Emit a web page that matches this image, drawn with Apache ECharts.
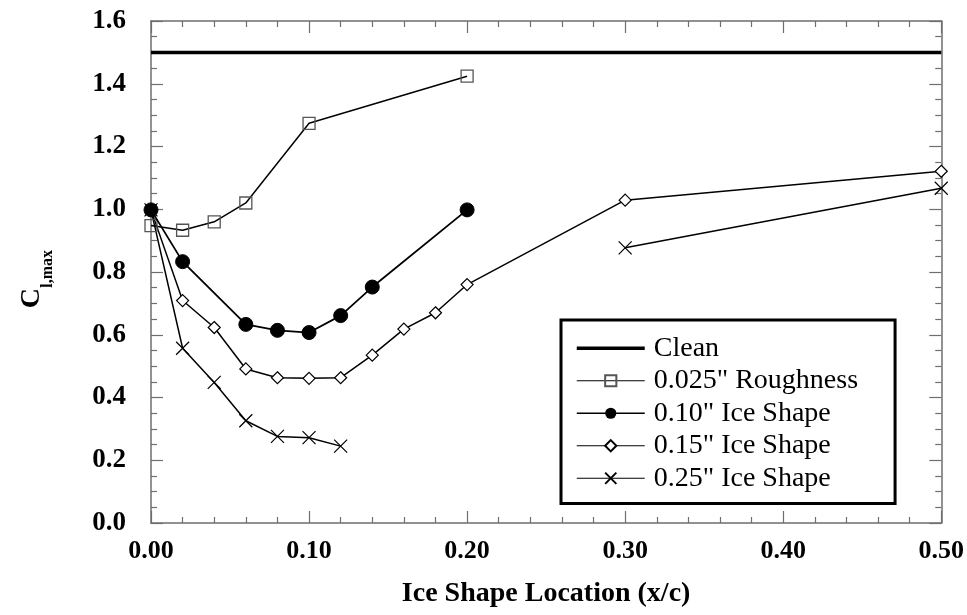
<!DOCTYPE html>
<html>
<head>
<meta charset="utf-8">
<script src="https://cdn.jsdelivr.net/npm/echarts@6/dist/echarts.min.js"></script>
<style>
  html, body { margin: 0; padding: 0; background: #fff; }
  #chart { width: 967px; height: 615px; }
</style>
</head>
<body>
<div id="chart"></div>
<script>
// Maximum lift coefficient versus ice shape chordwise location
const seriesNames = ['Clean', '0.025" Roughness', '0.10" Ice Shape', '0.15" Ice Shape', '0.25" Ice Shape'];

const cleanX = [0, 0.5];
const cleanY = [1.5, 1.5];

const roughX = [0, 0.02, 0.04, 0.06, 0.10, 0.20];
const roughY = [0.948, 0.933, 0.960, 1.020, 1.274, 1.424];

const ice10X = [0, 0.02, 0.06, 0.08, 0.10, 0.12, 0.14, 0.20];
const ice10Y = [0.998, 0.833, 0.633, 0.614, 0.607, 0.661, 0.752, 0.998];

const ice15X = [0, 0.02, 0.04, 0.06, 0.08, 0.10, 0.12, 0.14, 0.16, 0.18, 0.20, 0.30, 0.50];
const ice15Y = [0.998, 0.709, 0.623, 0.491, 0.463, 0.461, 0.463, 0.535, 0.618, 0.670, 0.760, 1.029, 1.121];

// null marks the break between the two measured runs
const ice25X = [0, 0.02, 0.04, 0.06, 0.08, 0.10, 0.12, 0.21, 0.30, 0.50];
const ice25Y = [0.998, 0.557, 0.448, 0.326, 0.276, 0.272, 0.245, null, 0.877, 1.067];

const xTicks = ['0.00', '0.10', '0.20', '0.30', '0.40', '0.50'];
const yTicks = ['0.0', '0.2', '0.4', '0.6', '0.8', '1.0', '1.2', '1.4', '1.6'];

const pairs = (xs, ys) => xs.map((x, i) => [x, ys[i]]);

const SERIF = '"Liberation Serif", "Times New Roman", serif';
const AXIS_GRAY = '#6e6e6e';

const chart = echarts.init(document.getElementById('chart'), null, { renderer: 'canvas' });

// every axis (including the mirrored top/right frame axes) sits on the grid edge
function makeAxis(extra, minorSplit) {
  return Object.assign({
    type: 'value',
    axisLine: { show: true, onZero: false, lineStyle: { color: AXIS_GRAY, width: 1.5 } },
    axisTick: { show: true, inside: true, length: 12, lineStyle: { color: AXIS_GRAY, width: 1.2 } },
    minorTick: { show: true, splitNumber: minorSplit, length: 6, lineStyle: { color: AXIS_GRAY, width: 1.2 } },
    splitLine: { show: false },
    minorSplitLine: { show: false }
  }, extra);
}

const xMain = makeAxis({
  min: 0, max: 0.5, interval: 0.1, position: 'bottom',
  axisLabel: {
    margin: 15, color: '#000', fontFamily: SERIF, fontWeight: 'bold', fontSize: 26,
    formatter: v => xTicks[Math.round(v * 10)]
  },
  name: 'Ice Shape Location (x/c)', nameLocation: 'middle', nameGap: 57,
  nameTextStyle: { color: '#000', fontFamily: SERIF, fontWeight: 'bold', fontSize: 28 }
}, 5);
const xTop = makeAxis({
  min: 0, max: 0.5, interval: 0.1, position: 'top', axisLabel: { show: false }
}, 5);
const yMain = makeAxis({
  min: 0, max: 1.6, interval: 0.2, position: 'left',
  axisLabel: {
    margin: 25, color: '#000', fontFamily: SERIF, fontWeight: 'bold', fontSize: 27,
    formatter: v => yTicks[Math.round(v * 5)]
  }
}, 4);
const yRight = makeAxis({
  min: 0, max: 1.6, interval: 0.2, position: 'right', axisLabel: { show: false }
}, 4);

const thinLine = { color: '#000', width: 1.5 };

chart.setOption({
  animation: false,
  backgroundColor: '#fff',
  grid: { left: 151, right: 25, top: 21, bottom: 92, containLabel: false },
  xAxis: [xMain, xTop],
  yAxis: [yMain, yRight],
  legend: {
    left: 561, top: 320,
    orient: 'vertical',
    data: [
      { name: seriesNames[0], itemStyle: { opacity: 0 }, lineStyle: { width: 3.5, color: '#000' } },
      { name: seriesNames[1], lineStyle: { width: 1.2, color: '#000' } },
      { name: seriesNames[2], lineStyle: { width: 1.5, color: '#000' } },
      { name: seriesNames[3], lineStyle: { width: 1.2, color: '#000' } },
      { name: seriesNames[4], lineStyle: { width: 1.2, color: '#000' } }
    ],
    itemWidth: 68, itemHeight: 14, itemGap: 0,
    padding: [12, 37, 9, 14],
    borderColor: '#000', borderWidth: 3,
    backgroundColor: '#fff',
    textStyle: { color: '#000', fontFamily: SERIF, fontSize: 28, lineHeight: 32.5, padding: [0, 0, 0, 4] }
  },
  graphic: [
    {
      type: 'text', left: 18, top: 288, rotation: Math.PI / 2,
      style: { text: 'C', fill: '#000', font: 'bold 28px ' + SERIF }
    },
    {
      type: 'text', left: 40, top: 250, rotation: Math.PI / 2,
      style: { text: 'l,max', fill: '#000', font: 'bold 16px ' + SERIF }
    }
  ],
  series: [
    {
      name: seriesNames[0], type: 'line', data: pairs(cleanX, cleanY),
      symbol: 'none', lineStyle: { color: '#000', width: 3.5 }, itemStyle: { color: '#000' }, z: 2
    },
    {
      name: seriesNames[1], type: 'line', data: pairs(roughX, roughY),
      symbol: 'rect', symbolSize: 12, showAllSymbol: true,
      lineStyle: thinLine,
      itemStyle: { color: 'rgba(255,255,255,0)', borderColor: '#555', borderWidth: 1.3 }, z: 3
    },
    {
      name: seriesNames[3], type: 'line', data: pairs(ice15X, ice15Y),
      symbol: 'diamond', symbolSize: [12, 12], showAllSymbol: true,
      lineStyle: thinLine,
      itemStyle: { color: '#fff', borderColor: '#000', borderWidth: 1.2 }, z: 3
    },
    {
      name: seriesNames[4], type: 'line', data: pairs(ice25X, ice25Y), connectNulls: false,
      symbol: 'path://M0,0L10,10M10,0L0,10', symbolSize: 13, showAllSymbol: true,
      lineStyle: thinLine,
      itemStyle: { color: 'none', borderColor: '#000', borderWidth: 1.2 }, z: 3
    },
    {
      name: seriesNames[2], type: 'line', data: pairs(ice10X, ice10Y),
      symbol: 'circle', symbolSize: 14, showAllSymbol: true,
      lineStyle: { color: '#000', width: 1.8 },
      itemStyle: { color: '#000', borderColor: '#000' }, z: 4
    }
  ]
});
</script>
</body>
</html>
